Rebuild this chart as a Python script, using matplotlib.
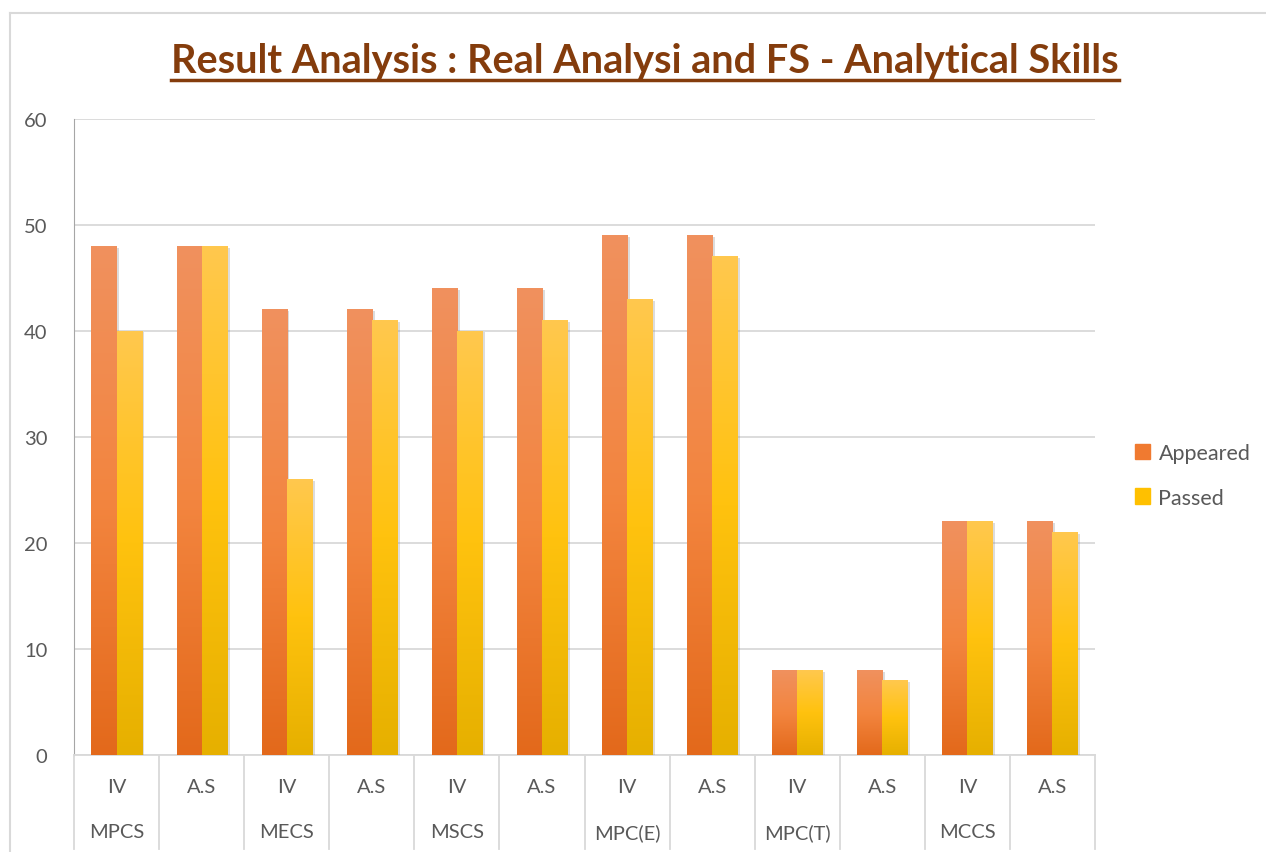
import matplotlib
matplotlib.use("Agg")
from matplotlib import pyplot as plt
from matplotlib import patheffects as pe
from matplotlib.colors import LinearSegmentedColormap
from matplotlib.patches import Rectangle
from matplotlib.lines import Line2D
import numpy as np

sub_labels = ["IV", "A.S", "IV", "A.S", "IV", "A.S", "IV", "A.S", "IV", "A.S", "IV", "A.S"]
group_labels = ["MPCS", "", "MECS", "", "MSCS", "", "MPC(E)", "", "MPC(T)", "", "MCCS", ""]
appeared = [48, 48, 42, 42, 44, 44, 49, 49, 8, 8, 22, 22]
passed = [40, 48, 26, 41, 40, 41, 43, 47, 8, 7, 22, 21]

plt.rcParams['font.family'] = ['Lato', 'DejaVu Sans']
grey_txt = "#595959"
grid_col = "#D9D9D9"

fig = plt.figure(figsize=(12.66, 8.53), dpi=100)
ax = fig.add_axes([74/1266, 1-756/853, (1095-74)/1266, (756-120)/853])

cmap_app = LinearSegmentedColormap.from_list("app", ["#E3691B", "#F3853F", "#F0915E"])
cmap_pas = LinearSegmentedColormap.from_list("pas", ["#E6B000", "#FFC20E", "#FFC84E"])
grad = np.linspace(0, 1, 256).reshape(-1, 1)

x = np.arange(len(sub_labels))
w = 0.295
shadow = [pe.SimplePatchShadow(offset=(2, -1), shadow_rgbFace="#8C8C8C", alpha=0.3), pe.Normal()]
for series, off, cm in [(appeared, -w/2, cmap_app), (passed, w/2, cmap_pas)]:
    bars = ax.bar(x + off, series, width=w, color=cm(0.5), zorder=3, linewidth=0)
    for b in bars:
        b.set_path_effects(shadow)
        x0, x1 = b.get_x(), b.get_x() + b.get_width()
        h = b.get_height()
        ax.imshow(grad, extent=[x0, x1, 0, h], origin="lower", cmap=cm, aspect="auto", zorder=4)

ax.set_xlim(-0.5, len(sub_labels) - 0.5)
ax.set_ylim(0, 60)
ax.set_yticks(range(0, 61, 10))
ax.yaxis.grid(True, color=grid_col, linewidth=1.3, zorder=0)
ax.set_axisbelow(True)
for s in ["top", "right"]:
    ax.spines[s].set_visible(False)
ax.spines["left"].set_color("#A6A6A6")
ax.spines["left"].set_linewidth(0.8)
ax.spines["bottom"].set_color(grid_col)
ax.spines["bottom"].set_linewidth(1.3)
ax.tick_params(axis="y", length=0, pad=19, labelsize=14.5, labelcolor=grey_txt)
ax.tick_params(axis="x", length=0, labelbottom=False)

# two-level category axis
tr = ax.get_xaxis_transform()
for b in np.arange(-0.5, len(sub_labels), 1.0):
    ax.add_line(Line2D([b, b], [0, -0.148], transform=tr, color=grid_col, linewidth=1.3, clip_on=False))
for i in x:
    ax.text(i, -0.049, sub_labels[i], transform=tr, ha="center", va="center", fontsize=14.5, color=grey_txt)
    if group_labels[i]:
        ax.text(i, -0.121, group_labels[i], transform=tr, ha="center", va="center", fontsize=14.5, color=grey_txt)

# legend
ax.legend(handles=[Rectangle((0, 0), 1, 1, color="#F07A30"), Rectangle((0, 0), 1, 1, color="#FFC000")],
          labels=["Appeared", "Passed"], loc="center left", bbox_to_anchor=(1.02, 0.44),
          frameon=False, fontsize=15.5, labelcolor=grey_txt, handlelength=0.7, handleheight=0.7,
          handletextpad=0.4, labelspacing=1.15)

# title with underline
brown = "#843C0C"
title = fig.text(645/1266, 1-62/853, "Result Analysis : Real Analysi and FS - Analytical Skills",
                 ha="center", va="center", fontsize=28.5, fontweight="bold", color=brown)
fig.canvas.draw()
bb = title.get_window_extent().transformed(fig.transFigure.inverted())
fig.add_artist(Line2D([bb.x0, bb.x1], [1-81/853, 1-81/853], color=brown, linewidth=2.5))

# chart frame
fig.add_artist(Line2D([10/1266, 1], [1-14/853, 1-14/853], color=grid_col, linewidth=1.5))
fig.add_artist(Line2D([10/1266, 10/1266], [0, 1-14/853], color=grid_col, linewidth=1.5))

fig.savefig("out.png", dpi=100)
